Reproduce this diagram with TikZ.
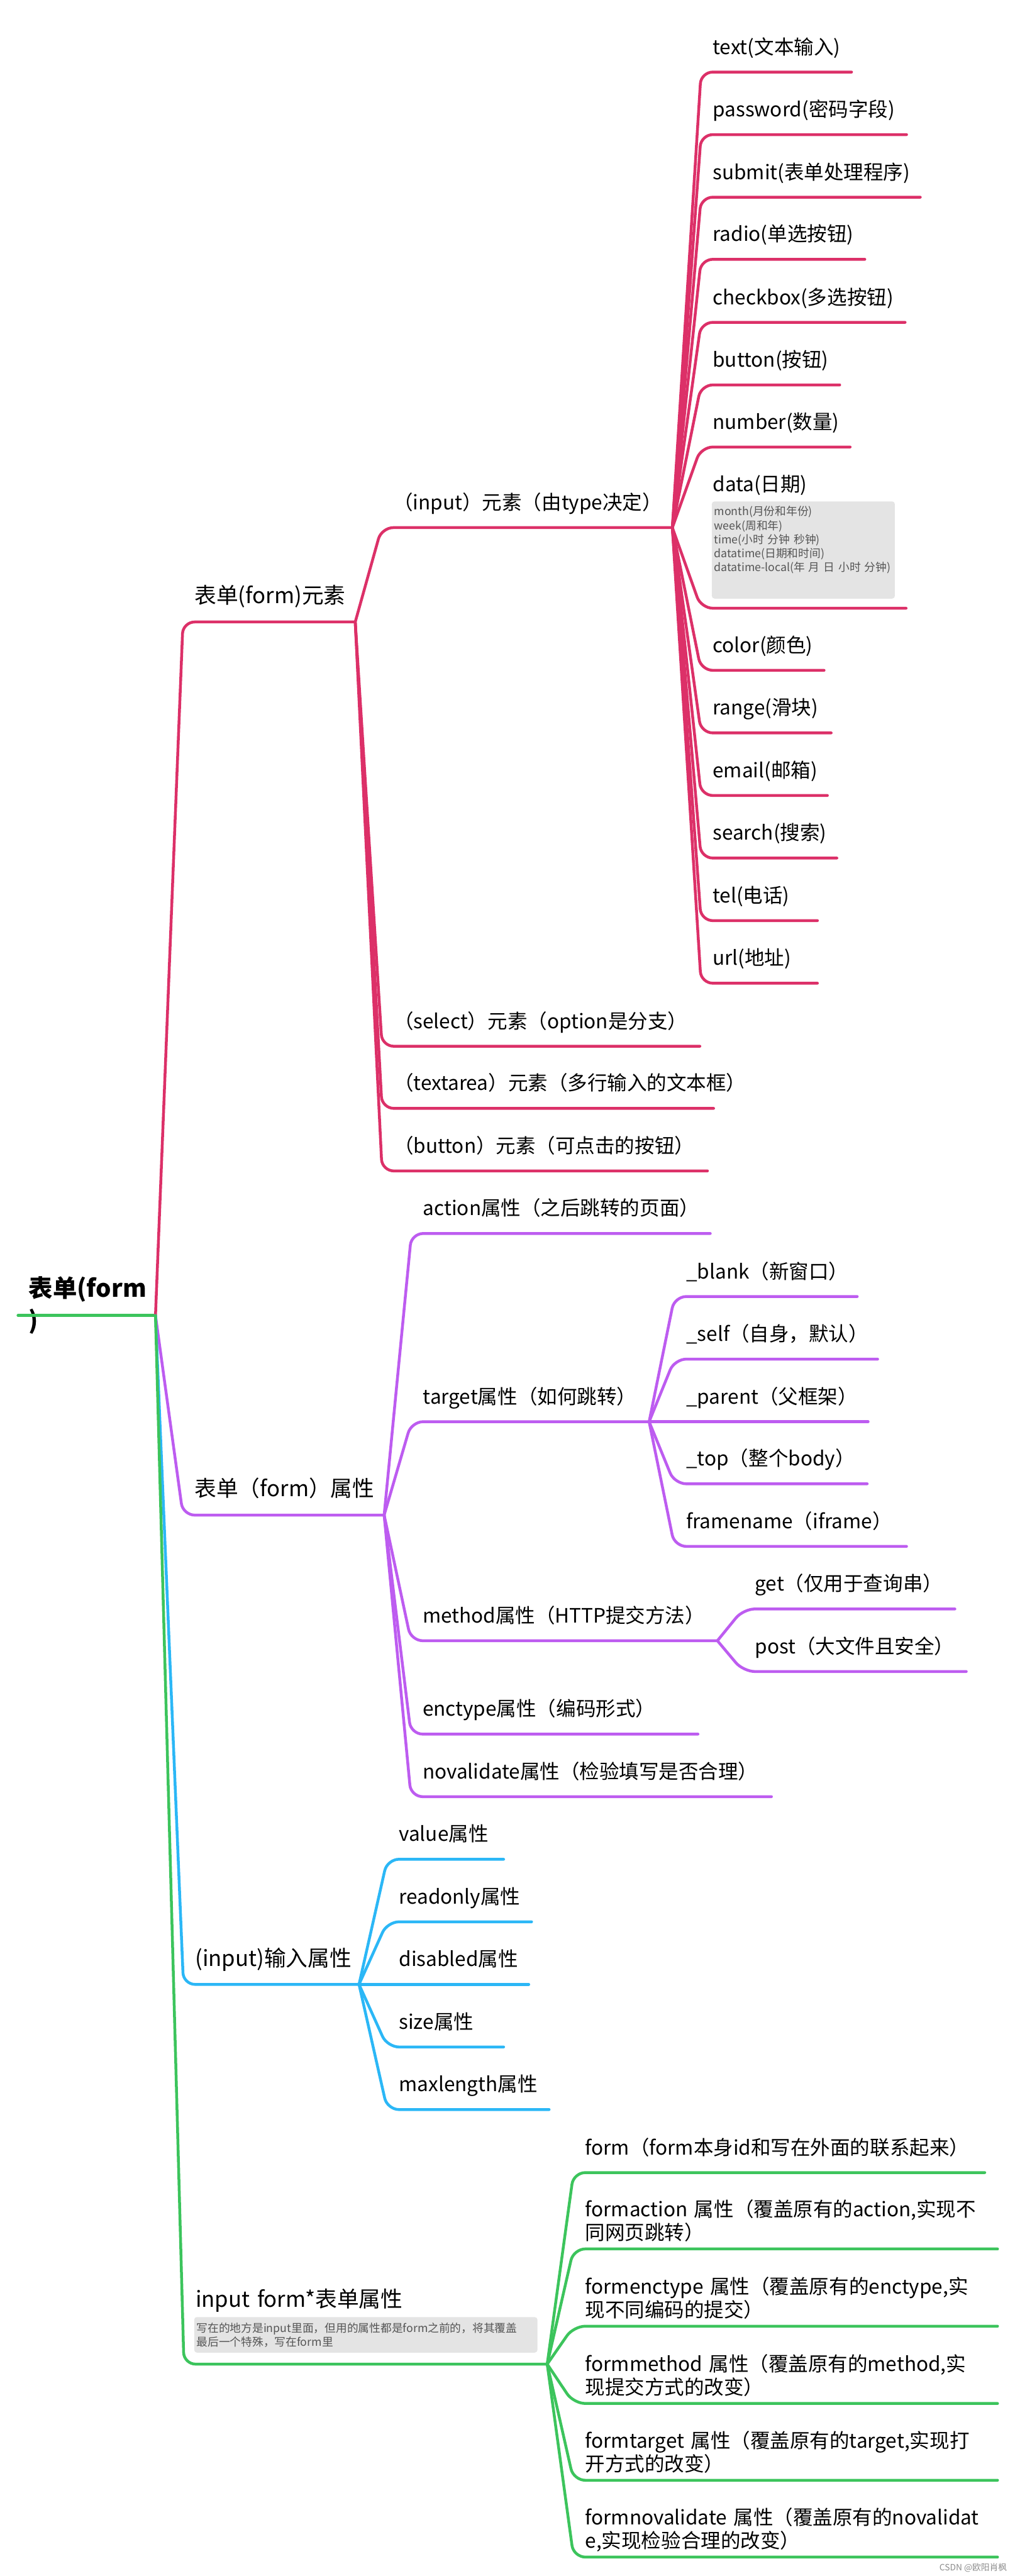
\documentclass[tikz,border=0pt]{standalone}
\usepackage{fontspec}
\setmainfont{Noto Sans CJK SC}
\definecolor{FormRed}{HTML}{DC3068}
\definecolor{FormPurple}{HTML}{BD5CF0}
\definecolor{FormBlue}{HTML}{2BB7F6}
\definecolor{FormGreen}{HTML}{3CC45C}
\definecolor{NoteGray}{HTML}{E4E4E4}
\definecolor{NoteText}{HTML}{555555}
% rama: de un punto de anclaje hasta el subrayado del hijo
\newcommand{\mapline}[3]{%
  \draw[#1] (#2) -- (#3.south west) -- (#3.south east);
}

\begin{document}
\begin{tikzpicture}[
    every node/.style={inner xsep=0.24cm, inner ysep=0pt, align=left},
    root/.style={font=\fontsize{14.5}{19.3}\selectfont\bfseries, inner xsep=0.22cm, text width=2.46cm, anchor=base west},
    topic/.style={font=\fontsize{13.1}{16}\selectfont, anchor=south west, text height=0.36cm, text depth=0.38cm},
    item/.style={font=\fontsize{11.9}{13.9}\selectfont, anchor=south west, text height=0.32cm, text depth=0.37cm},
    twoline/.style={text depth=0.67cm},
    note/.style={fill=NoteGray, rounded corners=1.6pt, text=NoteText, font=\fontsize{6.7}{8.4}\selectfont, anchor=north west, inner xsep=0.05cm},
    redline/.style={draw=FormRed, line width=1.7pt, rounded corners=7pt, line cap=round},
    purpleline/.style={draw=FormPurple, line width=1.7pt, rounded corners=7pt, line cap=round},
    blueline/.style={draw=FormBlue, line width=1.7pt, rounded corners=7pt, line cap=round},
    greenline/.style={draw=FormGreen, line width=1.7pt, rounded corners=7pt, line cap=round}
]
\useasboundingbox (0,0) rectangle (21.41,-54.34);

% ================= RAIZ =================
\node[root] (root) at (0.38,-27.36) {表单(form\\)};
\coordinate (hub) at (3.28,-27.75);

% ================= 表单(form)元素 =================
\node[topic, text width=3.14cm] (elem) at (3.86,-13.12) {表单(form)元素};
\node[item, text width=5.64cm] (input) at (8.05,-11.13) {（input）元素（由type决定）};
\node[item, text width=6.21cm] (select) at (8.06,-22.07) {（select）元素（option是分支）};
\node[item, text width=6.50cm] (textarea) at (8.06,-23.38) {（textarea）元素（多行输入的文本框）};
\node[item, text width=6.37cm] (buttonel) at (8.06,-24.70) {（button）元素（可点击的按钮）};

% tipos de input
\node[item, text width=2.68cm] (text) at (14.79,-1.52) {text(文本输入)};
\node[item, text width=3.84cm] (password) at (14.79,-2.84) {password(密码字段)};
\node[item, text width=4.13cm] (submit) at (14.79,-4.16) {submit(表单处理程序)};
\node[item, text width=2.96cm] (radio) at (14.79,-5.47) {radio(单选按钮)};
\node[item, text width=3.81cm] (checkbox) at (14.79,-6.80) {checkbox(多选按钮)};
\node[item, text width=2.43cm] (button) at (14.79,-8.12) {button(按钮)};
\node[item, text width=2.65cm] (number) at (14.79,-9.43) {number(数量)};
\node[item, text width=3.83cm, text depth=2.46cm] (data) at (14.79,-12.83) {data(日期)};
\node[note, text width=3.76cm, text height=0.30cm, text depth=1.75cm] (datanote) at (15.01,-10.57)
    {month(月份和年份)\\week(周和年)\\\mbox{time(小时 分钟 秒钟)}\\datatime(日期和时间)\\\mbox{datatime-local(年 月 日 小时 分钟)}};
\node[item, text width=2.10cm] (color) at (14.79,-14.14) {color(颜色)};
\node[item, text width=2.25cm] (range) at (14.79,-15.46) {range(滑块)};
\node[item, text width=2.17cm] (email) at (14.79,-16.78) {email(邮箱)};
\node[item, text width=2.37cm] (search) at (14.79,-18.10) {search(搜索)};
\node[item, text width=1.96cm] (tel) at (14.79,-19.42) {tel(电话)};
\node[item, text width=1.96cm] (url) at (14.79,-20.74) {url(地址)};

% ================= 表单（form）属性 =================
\node[topic, text width=3.75cm] (attr) at (3.86,-31.96) {表单（form）属性};
\node[item, text width=5.81cm] (action) at (8.68,-26.02) {action属性（之后跳转的页面）};
\node[item, text width=4.52cm] (target) at (8.68,-29.99) {target属性（如何跳转）};
\node[item, text width=5.97cm] (method) at (8.67,-34.61) {method属性（HTTP提交方法）};
\node[item, text width=5.56cm] (enctype) at (8.67,-36.58) {enctype属性（编码形式）};
\node[item, text width=7.11cm] (novalidate) at (8.67,-37.90) {novalidate属性（检验填写是否合理）};

\node[item, text width=3.36cm] (tblank) at (14.23,-27.35) {\_blank（新窗口）};
\node[item, text width=3.79cm] (tself) at (14.23,-28.67) {\_self（自身，默认）};
\node[item, text width=3.59cm] (tparent) at (14.23,-29.99) {\_parent（父框架）};
\node[item, text width=3.57cm] (ttop) at (14.23,-31.30) {\_top（整个body）};
\node[item, text width=4.40cm] (tframe) at (14.23,-32.62) {framename（iframe）};
\node[item, text width=3.97cm] (get) at (15.68,-33.94) {get（仅用于查询串）};
\node[item, text width=4.21cm] (post) at (15.68,-35.26) {post（大文件且安全）};

% ================= (input)输入属性 =================
\node[topic, text width=3.21cm] (inattr) at (3.87,-41.86) {(input)输入属性};
\node[item, text width=1.96cm] (value) at (8.17,-39.22) {value属性};
\node[item, text width=2.55cm] (readonly) at (8.17,-40.54) {readonly属性};
\node[item, text width=2.49cm] (disabled) at (8.17,-41.86) {disabled属性};
\node[item, text width=1.96cm] (size) at (8.17,-43.18) {size属性};
\node[item, text width=2.92cm] (maxlength) at (8.17,-44.50) {maxlength属性};

% ================= input form*表单属性 =================
\node[topic, text width=7.17cm, text depth=1.19cm] (formattr) at (3.88,-49.87) {input form*表单属性};
\node[note, text width=7.14cm, text height=0.32cm, text depth=0.43cm] (formnote) at (4.09,-48.87)
    {写在的地方是input里面，但用的属性都是form之前的，将其覆盖\\最后一个特殊，写在form里};
\node[item, text width=8.18cm] (form) at (12.10,-45.83) {form（form本身id和写在外面的联系起来）};
\node[item, twoline, text width=8.45cm] (formaction) at (12.10,-47.44) {formaction 属性（覆盖原有的action,实现不\\同网页跳转）};
\node[item, twoline, text width=8.45cm] (formenctype) at (12.10,-49.07) {formenctype 属性（覆盖原有的enctype,实\\现不同编码的提交）};
\node[item, twoline, text width=8.45cm] (formmethod) at (12.10,-50.70) {formmethod 属性（覆盖原有的method,实\\现提交方式的改变）};
\node[item, twoline, text width=8.45cm] (formtarget) at (12.10,-52.32) {formtarget 属性（覆盖原有的target,实现打\\开方式的改变）};
\node[item, twoline, text width=8.45cm] (formnovalidate) at (12.10,-53.94) {formnovalidate 属性（覆盖原有的novalidat\\e,实现检验合理的改变）};

% marca de agua
\node[inner sep=0pt, anchor=east, text=black!45, font=\fontsize{5.2}{6}\selectfont] (mark) at (21.25,-54.16) {CSDN @欧阳肖枫};

% ================= RAMAS =================
\draw[greenline] (root.west |- hub) -- (hub);
\mapline{redline}{hub}{elem}
\mapline{purpleline}{hub}{attr}
\mapline{blueline}{hub}{inattr}
\mapline{greenline}{hub}{formattr}

\foreach \c in {input,select,textarea,buttonel}
    {\mapline{redline}{elem.south east}{\c}}
\foreach \c in {text,password,submit,radio,checkbox,button,number,data,color,range,email,search,tel,url}
    {\mapline{redline}{input.south east}{\c}}

\foreach \c in {action,target,method,enctype,novalidate}
    {\mapline{purpleline}{attr.south east}{\c}}
\foreach \c in {tblank,tself,tparent,ttop,tframe}
    {\mapline{purpleline}{target.south east}{\c}}
\foreach \c in {get,post}
    {\mapline{purpleline}{method.south east}{\c}}

\foreach \c in {value,readonly,disabled,size,maxlength}
    {\mapline{blueline}{inattr.south east}{\c}}

\foreach \c in {form,formaction,formenctype,formmethod,formtarget,formnovalidate}
    {\mapline{greenline}{formattr.south east}{\c}}

\end{tikzpicture}
\end{document}
